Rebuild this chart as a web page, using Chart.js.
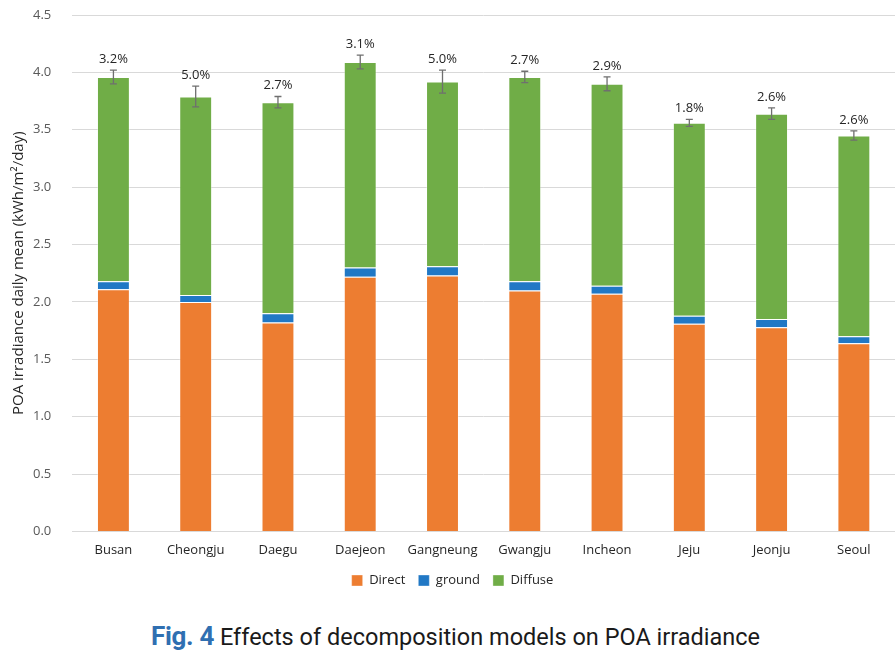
<!DOCTYPE html>
<html>
<head>
<meta charset="utf-8">
<script src="https://cdn.jsdelivr.net/npm/chart.js@4"></script>
<style>
  html, body { margin: 0; padding: 0; background: #fff; }
  #wrap { position: relative; width: 895px; height: 655px; }
  #chartBox { position: absolute; left: 0; top: 0; width: 895px; height: 600px; }
  #caption { position: absolute; left: 8px; top: 621px; width: 895px; text-align: center;
    font-family: "Roboto", "Noto Sans", sans-serif; font-size: 23.5px; color: #1a1a1a; white-space: nowrap; }
  #caption b { color: #2f6fb1; font-weight: bold; font-size: 26px; letter-spacing: -0.3px; }
</style>
</head>
<body>
<div id="wrap">
  <div id="chartBox"><canvas id="c"></canvas></div>
  <div id="caption"><b>Fig. 4</b> Effects of decomposition models on POA irradiance</div>
</div>
<script>
const categories = ["Busan", "Cheongju", "Daegu", "Daejeon", "Gangneung", "Gwangju", "Incheon", "Jeju", "Jeonju", "Seoul"];
const directValues = [2.11, 2.00, 1.82, 2.22, 2.23, 2.10, 2.07, 1.81, 1.78, 1.64];
const groundValues = [0.07, 0.06, 0.08, 0.08, 0.08, 0.08, 0.07, 0.07, 0.07, 0.06];
const totalValues  = [3.96, 3.79, 3.74, 4.09, 3.92, 3.96, 3.90, 3.56, 3.64, 3.45];
const diffuseValues = totalValues.map((t, i) => +(t - directValues[i] - groundValues[i]).toFixed(2));
const errorValues  = [0.06, 0.09, 0.05, 0.06, 0.10, 0.05, 0.06, 0.03, 0.05, 0.04];
const percentLabels = ["3.2%", "5.0%", "2.7%", "3.1%", "5.0%", "2.7%", "2.9%", "1.8%", "2.6%", "2.6%"];
const yTicks = [0, 0.5, 1.0, 1.5, 2.0, 2.5, 3.0, 3.5, 4.0, 4.5];

const errorPlugin = {
  id: 'errorBars',
  afterDatasetsDraw(chart) {
    const ctx = chart.ctx;
    const ys = chart.scales.y;
    const meta = chart.getDatasetMeta(2);
    ctx.save();
    ctx.strokeStyle = '#6f6f6f';
    ctx.lineWidth = 1.3;
    categories.forEach((c, i) => {
      const x = meta.data[i].x;
      const yTop = ys.getPixelForValue(totalValues[i] + errorValues[i]);
      const yBot = ys.getPixelForValue(totalValues[i] - errorValues[i]);
      ctx.beginPath();
      ctx.moveTo(x, yTop); ctx.lineTo(x, yBot);
      ctx.moveTo(x - 3.5, yTop); ctx.lineTo(x + 3.5, yTop);
      ctx.moveTo(x - 3.5, yBot); ctx.lineTo(x + 3.5, yBot);
      ctx.stroke();
      ctx.fillStyle = '#262626';
      ctx.font = '13px "Open Sans", "Noto Sans", sans-serif';
      ctx.textAlign = 'center';
      ctx.textBaseline = 'middle';
      ctx.fillText(percentLabels[i], x, yTop - 11);
    });
    ctx.restore();
  }
};

new Chart(document.getElementById('c'), {
  type: 'bar',
  data: {
    labels: categories,
    datasets: [
      { label: 'Direct', data: directValues, backgroundColor: '#ED7D31', borderColor: 'rgba(255,255,255,0.35)', borderWidth: 1 },
      { label: 'ground', data: groundValues, backgroundColor: '#2178C5', borderColor: 'rgba(255,255,255,0.35)', borderWidth: 1 },
      { label: 'Diffuse', data: diffuseValues, backgroundColor: '#70AD47', borderColor: 'rgba(255,255,255,0.35)', borderWidth: 1 }
    ]
  },
  options: {
    responsive: true,
    maintainAspectRatio: false,
    animation: false,
    layout: { padding: { top: 15, right: 0, left: 10, bottom: 3 } },
    datasets: { bar: { barPercentage: 0.4, categoryPercentage: 1.0 } },
    scales: {
      x: {
        stacked: true,
        grid: { display: false },
        border: { display: true, color: '#d9d9d9' },
        ticks: { color: '#262626', font: { family: '"Open Sans", "Noto Sans", sans-serif', size: 13 }, padding: 3 }
      },
      y: {
        stacked: true,
        min: 0, max: 4.5,
        afterBuildTicks(axis) { axis.ticks = yTicks.map(v => ({ value: v })); },
        grid: { color: '#d9d9d9', drawTicks: true, tickLength: 18, tickColor: 'rgba(0,0,0,0)' },
        border: { display: false },
        ticks: {
          color: '#595959', padding: 3,
          font: { family: '"Open Sans", "Noto Sans", sans-serif', size: 13 },
          callback: v => Number(v).toFixed(1)
        },
        title: {
          display: true,
          text: 'POA irradiance daily mean (kWh/m²/day)',
          color: '#262626',
          font: { family: '"Open Sans", "Noto Sans", sans-serif', size: 15 },
          padding: { top: 0, bottom: 2 }
        }
      }
    },
    plugins: {
      legend: {
        position: 'bottom',
        labels: {
          color: '#262626', boxWidth: 11, boxHeight: 11, padding: 13,
          font: { family: '"Open Sans", "Noto Sans", sans-serif', size: 13 }
        }
      },
      tooltip: { enabled: false }
    }
  },
  plugins: [errorPlugin]
});
</script>
</body>
</html>
